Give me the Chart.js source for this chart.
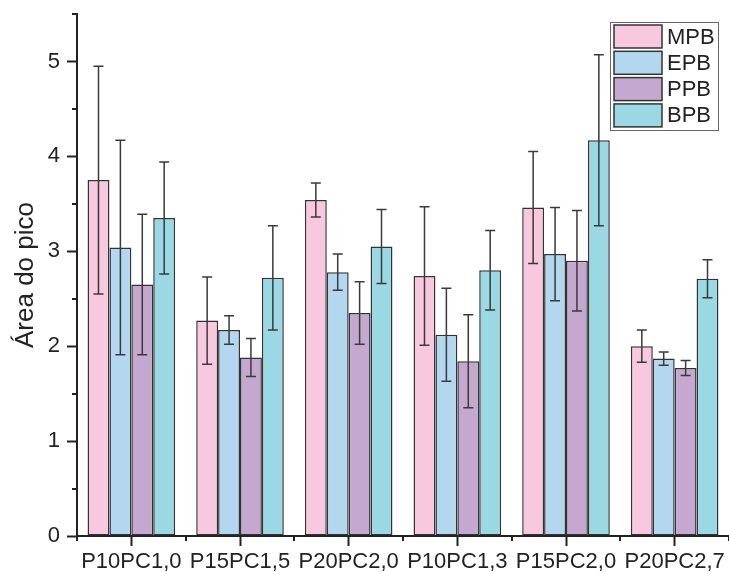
<!DOCTYPE html>
<html>
<head>
<meta charset="utf-8">
<script src="https://cdn.jsdelivr.net/npm/chart.js@4/dist/chart.umd.min.js"></script>
<style>
  html, body { margin: 0; padding: 0; background: #fff; }
  #wrap { width: 729px; height: 572px; }
</style>
</head>
<body>
<div id="wrap"><canvas id="c" width="729" height="572"></canvas></div>
<script>
// Peak area per formulation, four series with standard deviations
const categories = ['P10PC1,0', 'P15PC1,5', 'P20PC2,0', 'P10PC1,3', 'P15PC2,0', 'P20PC2,7'];
const seriesNames = ['MPB', 'EPB', 'PPB', 'BPB'];

const mpb    = [3.75, 2.27, 3.54, 2.74, 3.46, 2.00];
const mpbErr = [1.20, 0.46, 0.18, 0.73, 0.59, 0.17];
const epb    = [3.04, 2.17, 2.78, 2.12, 2.97, 1.87];
const epbErr = [1.13, 0.15, 0.19, 0.49, 0.49, 0.07];
const ppb    = [2.65, 1.88, 2.35, 1.84, 2.90, 1.77];
const ppbErr = [0.74, 0.20, 0.33, 0.49, 0.53, 0.08];
const bpb    = [3.35, 2.72, 3.05, 2.80, 4.17, 2.71];
const bpbErr = [0.59, 0.55, 0.39, 0.42, 0.90, 0.20];

const yTicks = [0, 1, 2, 3, 4, 5];
const yMinorTicks = [0.5, 1.5, 2.5, 3.5, 4.5, 5.5];

const fills = ['#F7C8DE', '#B4D7F0', '#C4A8D0', '#9AD9E3'];
const values = [mpb, epb, ppb, bpb];
const errors = [mpbErr, epbErr, ppbErr, bpbErr];

const INK = '#222';
const FONT = '"Liberation Sans", Arial, sans-serif';

// Vertical error bars with caps, placed through the chart scales
const errorBars = {
  id: 'errorBars',
  afterDatasetsDraw(chart) {
    const ctx = chart.ctx;
    const y = chart.scales.y;
    ctx.save();
    ctx.strokeStyle = '#3a3a3a';
    ctx.lineWidth = 1.5;
    chart.data.datasets.forEach((ds, di) => {
      const meta = chart.getDatasetMeta(di);
      meta.data.forEach((bar, i) => {
        const v = ds.data[i], e = ds.errors[i];
        const top = y.getPixelForValue(v + e);
        const bot = y.getPixelForValue(v - e);
        const x = bar.x;
        ctx.beginPath();
        ctx.moveTo(x, top); ctx.lineTo(x, bot);
        ctx.moveTo(x - 5, top); ctx.lineTo(x + 5, top);
        ctx.moveTo(x - 5, bot); ctx.lineTo(x + 5, bot);
        ctx.stroke();
      });
    });
    ctx.restore();
  }
};

// Short minor ticks on both axes
const minorTicks = {
  id: 'minorTicks',
  afterDraw(chart) {
    const ctx = chart.ctx;
    const { x, y } = chart.scales;
    const area = chart.chartArea;
    ctx.save();
    ctx.strokeStyle = INK;
    ctx.lineWidth = 2;
    ctx.beginPath();
    yMinorTicks.forEach(v => {
      const py = Math.round(y.getPixelForValue(v));
      ctx.moveTo(area.left, py); ctx.lineTo(area.left - 5, py);
    });
    for (let i = 0; i <= categories.length; i++) {
      const px = Math.round(x.getPixelForValue(i - 0.5));
      ctx.moveTo(px, area.bottom); ctx.lineTo(px, area.bottom + 5);
    }
    ctx.stroke();
    ctx.restore();
  }
};

// Boxed legend in the upper right corner
const boxLegend = {
  id: 'boxLegend',
  afterDraw(chart) {
    const ctx = chart.ctx;
    const bx = 610.5, by = 22.5, bw = 108, bh = 108;
    ctx.save();
    ctx.fillStyle = '#fff';
    ctx.fillRect(bx, by, bw, bh);
    ctx.strokeStyle = '#666';
    ctx.lineWidth = 1;
    ctx.strokeRect(bx, by, bw, bh);
    ctx.font = '22px ' + FONT;
    ctx.textBaseline = 'middle';
    ctx.textAlign = 'left';
    chart.data.datasets.forEach((ds, i) => {
      const ry = 25 + i * 26.3;
      ctx.fillStyle = ds.backgroundColor;
      ctx.fillRect(614, ry, 48, 23);
      ctx.strokeStyle = '#333';
      ctx.lineWidth = 1.5;
      ctx.strokeRect(614, ry, 48, 23);
      ctx.fillStyle = INK;
      ctx.fillText(ds.label, 667, ry + 12.5);
    });
    ctx.restore();
  }
};

new Chart(document.getElementById('c'), {
  type: 'bar',
  data: {
    labels: categories,
    datasets: seriesNames.map((name, i) => ({
      label: name,
      data: values[i],
      errors: errors[i],
      backgroundColor: fills[i],
      borderColor: '#333',
      borderWidth: 1.5,
      borderSkipped: false,
      categoryPercentage: 0.806,
      barPercentage: 1.0
    }))
  },
  options: {
    responsive: false,
    animation: false,
    devicePixelRatio: 1,
    layout: { padding: { top: 14, right: 0, left: 0, bottom: 0 } },
    plugins: {
      legend: { display: false },
      tooltip: { enabled: false }
    },
    scales: {
      x: {
        offset: true,
        grid: {
          offset: false,
          drawOnChartArea: false,
          drawTicks: true,
          tickLength: 10,
          tickWidth: 2,
          color: INK
        },
        border: { display: true, color: INK, width: 2 },
        ticks: {
          color: INK,
          padding: 3,
          maxRotation: 0,
          autoSkip: false,
          font: { family: FONT, size: 22 }
        },
        afterFit(s) { s.height = 36; s.paddingLeft = 0; s.paddingRight = 0; }
      },
      y: {
        min: 0,
        max: 5.5,
        afterBuildTicks(s) { s.ticks = yTicks.map(v => ({ value: v })); },
        grid: {
          drawOnChartArea: false,
          drawTicks: true,
          tickLength: 10,
          tickWidth: 2,
          color: INK
        },
        border: { display: true, color: INK, width: 2 },
        ticks: {
          color: INK,
          padding: 7,
          font: { family: FONT, size: 22 }
        },
        title: {
          display: true,
          text: 'Área do pico',
          color: INK,
          padding: { top: 10, bottom: 0 },
          font: { family: FONT, size: 26 }
        },
        afterFit(s) { s.width = 77; s.paddingTop = 0; s.paddingBottom = 0; }
      }
    }
  },
  plugins: [errorBars, minorTicks, boxLegend]
});
</script>
</body>
</html>
